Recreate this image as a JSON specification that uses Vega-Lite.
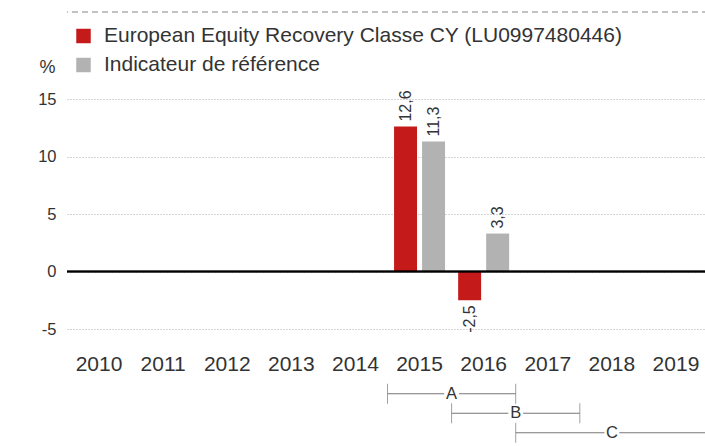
{
  "$schema": "https://vega.github.io/schema/vega-lite/v6.json",
  "padding": {"left": 37, "top": 11, "right": 0, "bottom": 0},
  "spacing": 8,
  "config": {
    "font": "Liberation Sans",
    "view": {"stroke": null},
    "locale": {"number": {"decimal": ",", "thousands": " ", "grouping": [3], "currency": ["", " €"], "minus": "-"}},
    "axis": {"domain": false, "ticks": false, "labelFont": "Liberation Sans", "labelColor": "#333333", "titleColor": "#333333", "titleFont": "Liberation Sans"}
  },
  "vconcat": [
    {
      "width": 641,
      "height": 230,
      "data": {"values": [
        {"year": "2015", "series": "European Equity Recovery Classe CY (LU0997480446)", "value": 12.6},
        {"year": "2015", "series": "Indicateur de référence", "value": 11.3},
        {"year": "2016", "series": "European Equity Recovery Classe CY (LU0997480446)", "value": -2.5},
        {"year": "2016", "series": "Indicateur de référence", "value": 3.3}
      ]},
      "encoding": {
        "x": {"field": "year", "type": "ordinal", "scale": {"domain": ["2010","2011","2012","2013","2014","2015","2016","2017","2018","2019"], "paddingInner": 0, "paddingOuter": 0},
              "axis": {"title": null, "labelAngle": 0, "labelFontSize": 21, "labelPadding": 24.5, "grid": false}},
        "xOffset": {"field": "series", "type": "nominal", "scale": {"domain": ["European Equity Recovery Classe CY (LU0997480446)", "Indicateur de référence"], "paddingInner": 0.18, "paddingOuter": 0.234}},
        "y": {"field": "value", "type": "quantitative", "scale": {"domain": [-5, 15], "nice": false, "zero": false},
              "axis": {"values": [-5, 0, 5, 10, 15], "labelFontSize": 16.5, "labelPadding": 11, "grid": true, "gridColor": "#aaaaaa", "gridDash": [1, 2], "gridWidth": 1,
                       "title": "%", "titleAngle": 0, "titleX": -20, "titleY": -32, "titleAlign": "center", "titleBaseline": "middle", "titleFontSize": 18, "titleFontWeight": "normal"}}
      },
      "layer": [
        {
          "mark": {"type": "bar"},
          "encoding": {
            "color": {"field": "series", "type": "nominal",
                      "scale": {"domain": ["European Equity Recovery Classe CY (LU0997480446)", "Indicateur de référence"], "range": ["#C41A1A", "#B2B2B2"]},
                      "legend": {"title": null, "orient": "none", "legendX": 6, "legendY": -73.5, "padding": 0, "symbolType": "square", "symbolSize": 210, "symbolStrokeWidth": 0, "symbolOpacity": 1,
                                 "labelFontSize": 21, "labelColor": "#333333", "labelFont": "Liberation Sans", "labelOffset": 10, "rowPadding": 7, "labelLimit": 0}}
          }
        },
        {
          "transform": [{"filter": "datum.value >= 0"}],
          "mark": {"type": "text", "angle": 270, "align": "left", "baseline": "middle", "dx": 5, "fontSize": 16, "color": "#333333"},
          "encoding": {"text": {"field": "value", "type": "quantitative", "format": ".1f"}}
        },
        {
          "transform": [{"filter": "datum.value < 0"}],
          "mark": {"type": "text", "angle": 270, "align": "right", "baseline": "middle", "dx": -5, "fontSize": 16, "color": "#333333"},
          "encoding": {"text": {"field": "value", "type": "quantitative", "format": ".1f"}}
        },
        {
          "mark": {"type": "rule", "color": "#000000", "strokeWidth": 1.5},
          "encoding": {"y": {"datum": 0}, "x": null, "xOffset": null}
        },
        {
          "mark": {"type": "rule", "color": "#c2c2c2", "strokeWidth": 2, "strokeDash": [6, 4]},
          "encoding": {"y": {"datum": 22.565}, "x": null, "xOffset": null}
        }
      ]
    },
    {
      "width": 641,
      "height": 58.5,
      "data": {"values": [
        {"period": "A", "from": 2015, "to": 2017},
        {"period": "B", "from": 2016, "to": 2018},
        {"period": "C", "from": 2017, "to": 2020}
      ]},
      "transform": [{"calculate": "(datum.from + datum.to) / 2", "as": "mid"}],
      "encoding": {
        "y": {"field": "period", "type": "nominal", "axis": null, "scale": {"domain": ["A", "B", "C"], "paddingInner": 0, "paddingOuter": 0}}
      },
      "layer": [
        {
          "mark": {"type": "rule", "color": "#777777", "strokeWidth": 1},
          "encoding": {
            "x": {"field": "from", "type": "quantitative", "scale": {"domain": [2010, 2020], "nice": false, "zero": false}, "axis": null},
            "x2": {"field": "to"}
          }
        },
        {
          "mark": {"type": "tick", "orient": "vertical", "color": "#777777", "size": 20, "thickness": 1},
          "encoding": {"x": {"field": "from", "type": "quantitative"}}
        },
        {
          "mark": {"type": "tick", "orient": "vertical", "color": "#777777", "size": 20, "thickness": 1},
          "encoding": {"x": {"field": "to", "type": "quantitative"}}
        },
        {
          "mark": {"type": "square", "size": 220, "color": "white", "opacity": 1},
          "encoding": {"x": {"field": "mid", "type": "quantitative"}}
        },
        {
          "mark": {"type": "text", "fontSize": 16.5, "color": "#333333", "baseline": "middle", "align": "center"},
          "encoding": {"x": {"field": "mid", "type": "quantitative"}, "text": {"field": "period"}}
        }
      ]
    }
  ]
}
